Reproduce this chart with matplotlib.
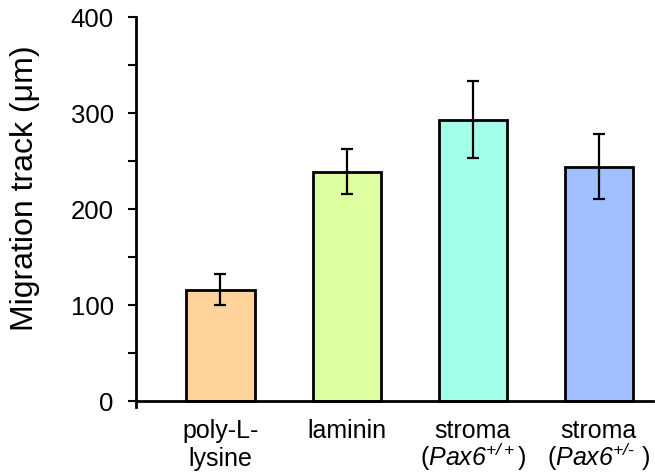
import matplotlib
matplotlib.use("Agg")
import matplotlib.pyplot as plt
from matplotlib.ticker import MultipleLocator

plt.rcParams['font.family'] = ['Liberation Sans', 'DejaVu Sans']
plt.rcParams['mathtext.fontset'] = 'custom'
plt.rcParams['mathtext.rm'] = 'Liberation Sans:italic'
plt.rcParams['mathtext.it'] = 'Liberation Sans:italic'

categories = ['poly-L-\nlysine', 'laminin', 'stroma\n($\\mathit{Pax6}^{+/+}$)', 'stroma\n($\\mathit{Pax6}^{+/\u2010}$ )']
values = [116, 239, 293, 244]
errors = [16, 23.5, 40, 34]
colors = ['#FFD39B', '#DDFF9F', '#A2FFE8', '#A2BFFF']

fig = plt.figure(figsize=(6.55, 4.74), dpi=100)
ax = fig.add_axes([0.2076, 0.1414, 0.7894, 0.8226])

x = list(range(len(categories)))
ax.bar(x, values, width=0.54, color=colors, edgecolor='black', linewidth=2, zorder=2)
ax.errorbar(x, values, yerr=errors, fmt='none', ecolor='black', elinewidth=1.6,
            capsize=4, capthick=1.6, zorder=3)

ax.set_xlim(-0.67, 3.43)
ax.set_ylim(-6 / 0.975, 400)
ax.spines['top'].set_visible(False)
ax.spines['right'].set_visible(False)
ax.spines['bottom'].set_position(('data', 0))
ax.spines['left'].set_linewidth(2)
ax.spines['bottom'].set_linewidth(2)
ax.spines['left'].set_bounds(-6 / 0.975, 400)

ax.yaxis.set_major_locator(MultipleLocator(100))
ax.yaxis.set_minor_locator(MultipleLocator(50))
ax.tick_params(axis='y', which='both', direction='out', length=6, width=1.5, labelsize=18.5, pad=10)
ax.tick_params(axis='x', length=0, labelsize=18, pad=13)
ax.set_xticks(x)
ax.set_xticklabels(categories)
for lab in ax.get_xticklabels():
    lab.set_linespacing(0.9 if '$' in lab.get_text() else 1.2)

ax.set_ylabel('Migration track (μm)', fontsize=23)
ax.yaxis.set_label_coords(-0.186, 0.56)

fig.savefig('out.png', dpi=100)
